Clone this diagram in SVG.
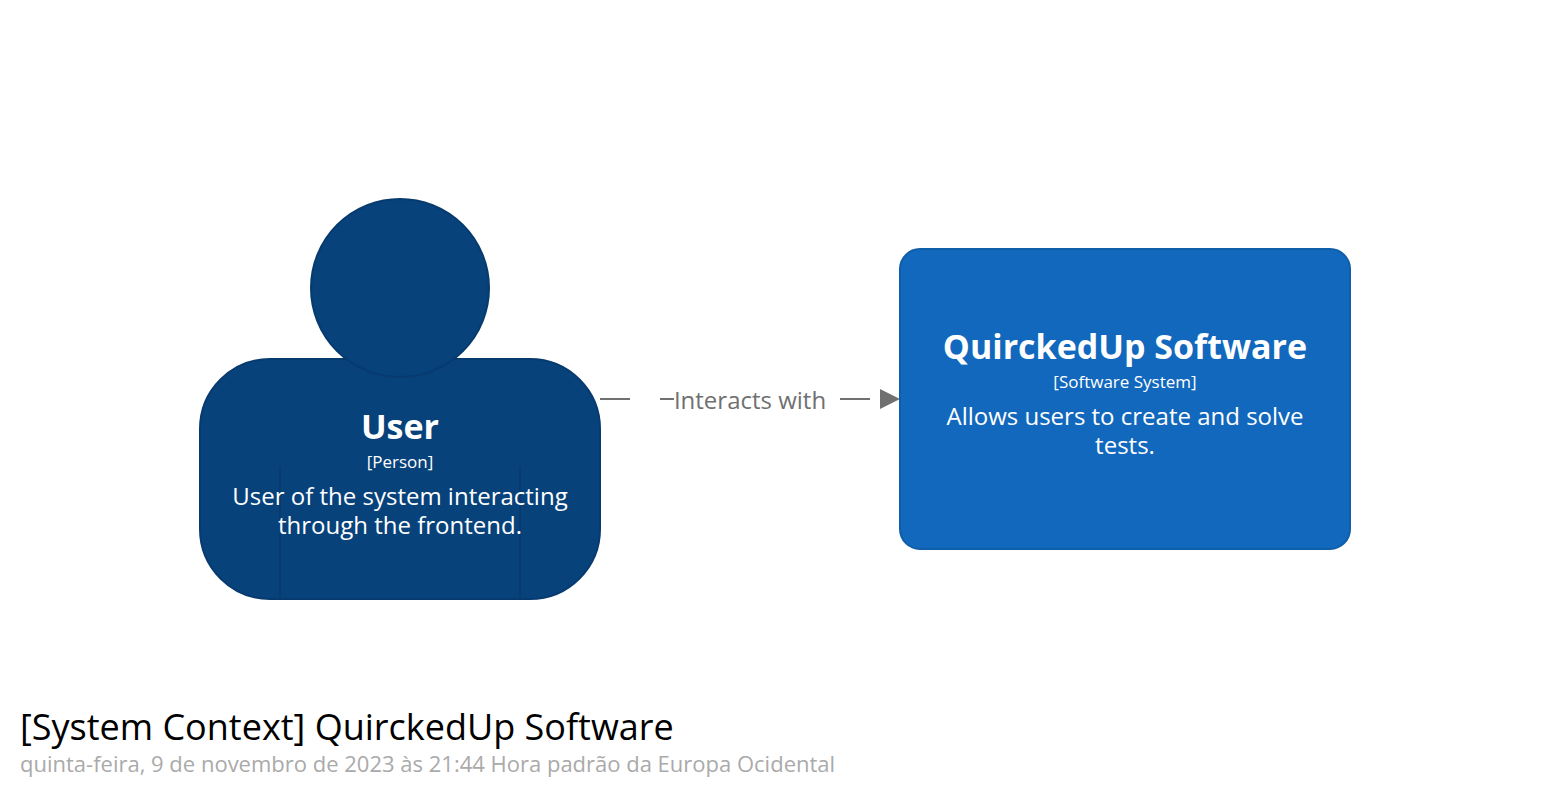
<svg xmlns="http://www.w3.org/2000/svg" width="1550" height="800" viewBox="0 0 1550 800">
<style>
text{font-family:"Open Sans","Noto Sans",sans-serif}
.c{text-anchor:middle;fill:#fff}
.n{font-size:34px;font-weight:700}
.m{font-size:17px}
.d{font-size:24px}
.ps{fill:#08427b;stroke:#073b6f;stroke-width:2}
.sep{fill:none;stroke:#073b6f;stroke-width:2}
</style>
<defs>
<marker id="arrow" markerUnits="userSpaceOnUse" markerWidth="20" markerHeight="20" refX="20" refY="10" orient="auto"><path d="M0 0L20 10L0 20Z" fill="#707070"/></marker>
</defs>
<rect width="1550" height="800" fill="#fff"/>
<g id="connectors">
<path d="M600 399H900" fill="none" stroke="#707070" stroke-width="2" stroke-dasharray="30 30" marker-end="url(#arrow)"/>
<rect x="674" y="384" width="152" height="32" fill="#fff"/>
<text x="750" y="409" font-size="24" fill="#707070" text-anchor="middle">Interacts with</text>
</g>
<g id="user">
<rect class="ps" x="200" y="359" width="400" height="240" rx="70" ry="70"/>
<circle class="ps" cx="400" cy="288" r="89"/>
<path class="sep" d="M280 466V599M520 466V599"/>
<text class="c n" x="400" y="439">User</text>
<text class="c m" x="400" y="468">[Person]</text>
<text class="c d"><tspan x="400" y="505">User of the system interacting</tspan><tspan x="400" y="534">through the frontend.</tspan></text>
</g>
<g id="software">
<rect x="900" y="249" width="450" height="300" rx="20" ry="20" fill="#1168bd" stroke="#0f5eaa" stroke-width="2"/>
<text class="c n" x="1125" y="359">QuirckedUp Software</text>
<text class="c m" x="1125" y="388">[Software System]</text>
<text class="c d"><tspan x="1125" y="425">Allows users to create and solve</tspan><tspan x="1125" y="454">tests.</tspan></text>
</g>
<g id="title">
<text x="20" y="740" font-size="36" fill="#000">[System Context] QuirckedUp Software</text>
<text x="20" y="772" font-size="22" fill="#aaa">quinta-feira, 9 de novembro de 2023 às 21:44 Hora padrão da Europa Ocidental</text>
</g>
</svg>
